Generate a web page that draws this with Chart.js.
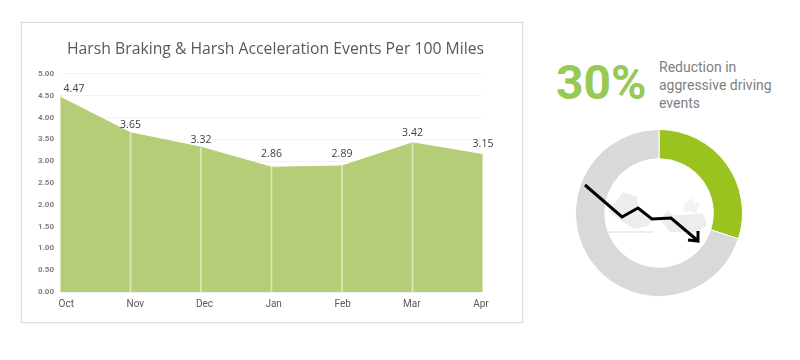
<!DOCTYPE html>
<html>
<head>
<meta charset="utf-8">
<script src="https://cdn.jsdelivr.net/npm/chart.js@4"></script>
<style>
  html, body { margin: 0; padding: 0; background: #fff; }
  #page { position: relative; width: 800px; height: 360px; overflow: hidden; font-family: Roboto, sans-serif; }
  #card { position: absolute; left: 21px; top: 22px; width: 500px; height: 299px; border: 1px solid #dcdcdc; box-shadow: 0 0 1px #dcdcdc; }
  #chArea { position: absolute; left: 0; top: 0; }
  #chRing { position: absolute; left: 569px; top: 124px; }
  #pct { position: absolute; left: 556px; top: 54px; font-size: 48px; line-height: 58px; font-weight: 700; color: #97c955; }
  #note { position: absolute; left: 659px; top: 58px; font-size: 14px; line-height: 18px; color: #808080; }
  #icon { position: absolute; left: 0; top: 0; }
</style>
</head>
<body>
<div id="page">
  <div id="card"><canvas id="chArea" width="507" height="299"></canvas></div>
  <div id="pct">30%</div>
  <div id="note">Reduction in<br>aggressive driving<br>events</div>
  <canvas id="chRing" width="180" height="178"></canvas>
  <svg id="icon" width="800" height="360">
    <g fill="#ededed">
      <polygon points="608,212 623,192 637,197 638,208 652,220 648,226 634,229 620,220"/>
      <polygon points="660,220 667,211 673,215 685,215 703,213 707,225 698,232 670,232"/>
      <polygon points="683,205 688,201 691,197 694,202 701,204 697,208 697,214 691,211 685,212" fill="#f3f3f3"/>
      <rect x="608" y="231" width="45" height="2"/>
    </g>
    <polyline points="585,185 622,217 638,208 652,219 671,218 697,240" fill="none" stroke="#000" stroke-width="3" stroke-linejoin="miter"/>
    <polyline points="698,231 698,241 688,240" fill="none" stroke="#000" stroke-width="3"/>
  </svg>
</div>
<script>
// valori
const months = ['Oct', 'Nov', 'Dec', 'Jan', 'Feb', 'Mar', 'Apr'];
const events = [4.47, 3.65, 3.32, 2.86, 2.89, 3.42, 3.15];
const ringShare = [30, 70];

// scostamento etichette in px (solo resa)
const labelRise = [8, 8, 7, 13, 12, 10, 11];
const labelShift = [14, 0, 0, 0, 0, 0, 0];

const valueLabels = {
  id: 'valueLabels',
  afterDatasetsDraw(chart) {
    const pts = chart.getDatasetMeta(1).data;
    const ctx = chart.ctx;
    ctx.save();
    ctx.font = '10.5px "Open Sans"';
    ctx.fillStyle = '#404040';
    ctx.textAlign = 'center';
    ctx.textBaseline = 'middle';
    pts.forEach((p, i) => {
      ctx.fillText(events[i].toFixed(2), p.x + labelShift[i], p.y - labelRise[i]);
    });
    ctx.restore();
  }
};

new Chart(document.getElementById('chArea'), {
  data: {
    labels: months,
    datasets: [
      // linee verticali sotto ogni punto
      { type: 'bar', data: events, backgroundColor: '#dde7c2', barThickness: 1, order: 0 },
      { type: 'line', data: events, fill: 'origin', backgroundColor: '#b5cd76', borderColor: '#b5cd76',
        borderWidth: 1, pointRadius: 0, tension: 0, order: 1 }
    ]
  },
  options: {
    responsive: false,
    animation: false,
    layout: { padding: { left: 0, right: 0, top: 0, bottom: 6 } },
    plugins: {
      legend: { display: false },
      tooltip: { enabled: false },
      title: {
        display: true,
        text: 'Harsh Braking & Harsh Acceleration Events Per 100 Miles',
        color: '#595959',
        font: { family: '"Open Sans"', size: 15.75, weight: 'normal' },
        padding: { top: 17, bottom: 15 }
      }
    },
    scales: {
      x: { display: false, offset: false },
      months: {
        type: 'linear',
        position: 'bottom',
        min: -0.091,
        max: 6.029,
        grid: { display: false, drawTicks: false },
        border: { display: false },
        afterBuildTicks(scale) { scale.ticks = months.map((_, i) => ({ value: i })); },
        ticks: {
          autoSkip: false,
          maxRotation: 0,
          padding: 6,
          color: '#595959',
          font: { family: 'Roboto', size: 10 },
          callback: v => months[v]
        }
      },
      y: {
        min: 0,
        max: 5,
        afterFit(scale) { scale.width = 38; },
        grid: { color: '#f4f4f4', drawTicks: false },
        border: { display: false },
        ticks: {
          stepSize: 0.5,
          padding: 6,
          color: '#7f7f7f',
          font: { family: 'Roboto', size: 8, weight: 'bold' },
          callback: v => v.toFixed(2)
        }
      },
      // asse vuoto: lascia il margine destro e tiene il titolo centrato sulla card
      rightGap: {
        position: 'right',
        afterFit(scale) { scale.width = 46; },
        grid: { display: false, drawTicks: false },
        border: { display: false },
        ticks: { display: false }
      }
    }
  },
  plugins: [valueLabels]
});

new Chart(document.getElementById('chRing'), {
  type: 'doughnut',
  data: {
    labels: ['Reduction', 'Rest'],
    datasets: [{ data: ringShare, backgroundColor: ['#9bc31f', '#d9d9d9'], borderColor: '#fff', borderWidth: 1 }]
  },
  options: {
    responsive: false,
    animation: false,
    cutout: '65%',
    layout: { padding: 5 },
    plugins: { legend: { display: false }, tooltip: { enabled: false } }
  }
});
</script>
</body>
</html>
